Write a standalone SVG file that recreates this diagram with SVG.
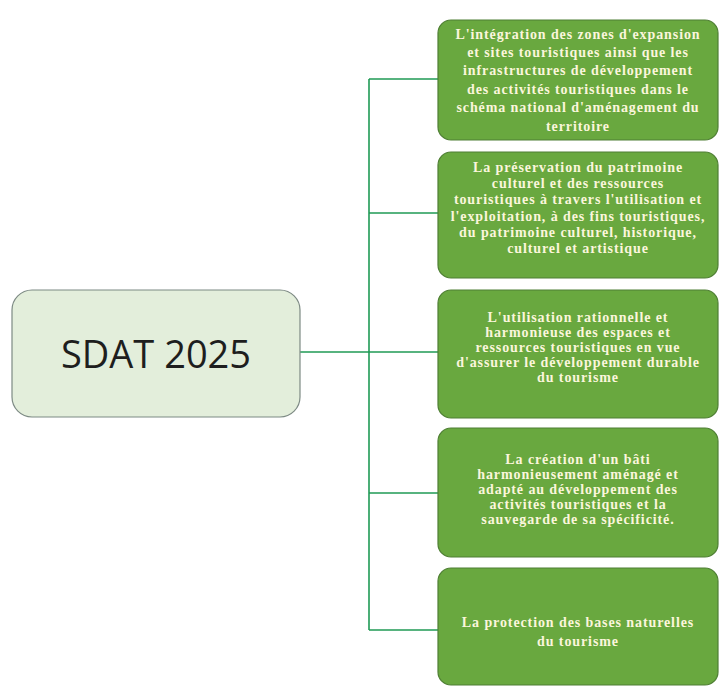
<svg xmlns="http://www.w3.org/2000/svg" width="723" height="688" viewBox="0 0 723 688">
<style>
.bg{fill:#ffffff}
.root rect{fill:#e3eedb;stroke:#7d8a84;stroke-width:1.2}
.root text{font-family:"Open Sans","Liberation Sans",sans-serif;font-size:38px;fill:#1e1e1e;text-anchor:middle}
.leaf rect{fill:#69a83f;stroke:#4f7f34;stroke-width:1.2}
.leaf text{font-family:"Liberation Serif",serif;font-weight:bold;font-size:14px;letter-spacing:0.9px;fill:#fbf6dc;text-anchor:middle}
.conn line{stroke:#1f9a55;stroke-width:1.6;fill:none}
</style>
<rect class="bg" x="0" y="0" width="723" height="688"/>
<g id="connectors" class="conn">
<line x1="300" y1="352" x2="369" y2="352"/>
<line x1="369" y1="79" x2="369" y2="630"/>
<line x1="369" y1="79" x2="439" y2="79"/>
<line x1="369" y1="213" x2="439" y2="213"/>
<line x1="369" y1="352" x2="439" y2="352"/>
<line x1="369" y1="493" x2="439" y2="493"/>
<line x1="369" y1="630" x2="439" y2="630"/>
</g>
<g id="root" class="root">
<rect x="12" y="290" width="288" height="127" rx="20"/>
<text x="156" y="368">SDAT 2025</text>
</g>
<g id="n1" class="leaf">
<rect x="438" y="20" width="280" height="120" rx="13"/>
<text x="578" y="39">L'intégration des zones d'expansion</text>
<text x="578" y="57">et sites touristiques ainsi que les</text>
<text x="578" y="75">infrastructures de développement</text>
<text x="578" y="94">des activités touristiques dans le</text>
<text x="578" y="112">schéma national d'aménagement du</text>
<text x="578" y="131">territoire</text>
</g>
<g id="n2" class="leaf">
<rect x="438" y="152" width="280" height="126" rx="13"/>
<text x="578" y="172">La préservation du patrimoine</text>
<text x="578" y="188">culturel et des ressources</text>
<text x="578" y="204">touristiques à travers l'utilisation et</text>
<text x="578" y="221">l'exploitation, à des fins touristiques,</text>
<text x="578" y="237">du patrimoine culturel, historique,</text>
<text x="578" y="253">culturel et artistique</text>
</g>
<g id="n3" class="leaf">
<rect x="438" y="290" width="280" height="128" rx="13"/>
<text x="578" y="322">L'utilisation rationnelle et</text>
<text x="578" y="337">harmonieuse des espaces et</text>
<text x="578" y="352">ressources touristiques en vue</text>
<text x="578" y="367">d'assurer le développement durable</text>
<text x="578" y="382">du tourisme</text>
</g>
<g id="n4" class="leaf">
<rect x="438" y="428" width="280" height="129" rx="13"/>
<text x="578" y="464">La création d'un bâti</text>
<text x="578" y="479">harmonieusement aménagé et</text>
<text x="578" y="494">adapté au développement des</text>
<text x="578" y="509">activités touristiques et la</text>
<text x="578" y="524">sauvegarde de sa spécificité.</text>
</g>
<g id="n5" class="leaf">
<rect x="438" y="568" width="280" height="117" rx="13"/>
<text x="578" y="627">La protection des bases naturelles</text>
<text x="578" y="646">du tourisme</text>
</g>
</svg>
